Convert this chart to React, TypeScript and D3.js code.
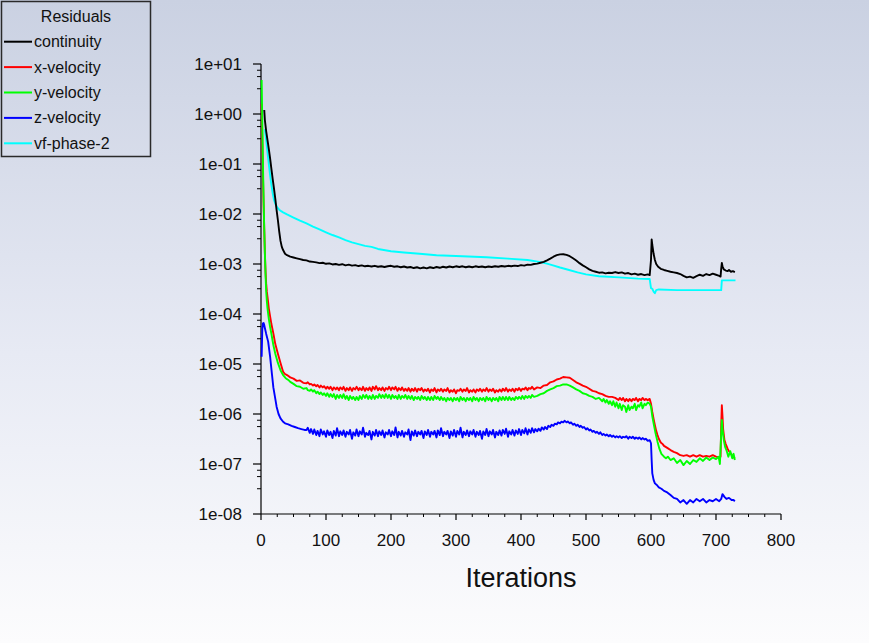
import React, { useEffect, useRef } from "react";
import * as d3 from "d3";

type Pt = [number, number];

// --- Data (iteration, residual)
const continuity: Pt[] = [
  [5, 1.2], [6, 0.75], [8, 0.45], [10, 0.3], [12, 0.2], [14, 0.13], [16, 0.08], [18, 0.05], [20, 0.032],
  [22, 0.02], [24, 0.012], [26, 0.0075], [28, 0.0045], [30, 0.0029], [32, 0.0022], [34, 0.0019], [37, 0.0016],
  [40, 0.0015], [45, 0.0014], [50, 0.00135], [55, 0.0013], [60, 0.00125], [65, 0.0012], [70, 0.00118],
  [75, 0.00112], [80, 0.0011], [85, 0.00108], [90, 0.00104], [95, 0.00106], [100, 0.00101], [105, 0.00103],
  [110, 0.00098], [115, 0.001], [120, 0.00096], [125, 0.00099], [130, 0.00094], [135, 0.00097], [140, 0.00093],
  [145, 0.00095], [150, 0.00091], [155, 0.00094], [160, 0.0009], [165, 0.00092], [170, 0.00089], [175, 0.00092],
  [180, 0.00088], [185, 0.0009], [190, 0.00087], [195, 0.0009], [200, 0.00092], [205, 0.00088], [210, 0.0009],
  [215, 0.00086], [220, 0.00089], [225, 0.00085], [230, 0.00087], [235, 0.00083], [240, 0.00086], [245, 0.00082],
  [250, 0.00085], [255, 0.00082], [260, 0.00086], [265, 0.00083], [270, 0.00087], [275, 0.00084], [280, 0.00088],
  [285, 0.00085], [290, 0.00089], [295, 0.00086], [300, 0.0009], [305, 0.00087], [310, 0.0009], [315, 0.00086],
  [320, 0.00089], [325, 0.00086], [330, 0.0009], [335, 0.00087], [340, 0.00089], [345, 0.00086], [350, 0.00089],
  [355, 0.00087], [360, 0.0009], [365, 0.00088], [370, 0.00091], [375, 0.00089], [380, 0.00092], [385, 0.0009],
  [390, 0.00093], [395, 0.00091], [400, 0.00095], [405, 0.00093], [410, 0.00097], [415, 0.00096], [420, 0.001],
  [425, 0.00102], [430, 0.00106], [435, 0.0011], [440, 0.00118], [445, 0.00128], [450, 0.0014], [455, 0.0015],
  [460, 0.00156], [465, 0.00157], [470, 0.00152], [475, 0.00143], [480, 0.0013], [485, 0.00117], [490, 0.00104],
  [495, 0.00094], [500, 0.00086], [505, 0.00078], [510, 0.00073], [515, 0.0007], [520, 0.00067], [525, 0.00068],
  [530, 0.00065], [535, 0.00067], [540, 0.00066], [545, 0.00069], [550, 0.00066], [555, 0.00068], [560, 0.00064],
  [565, 0.00066], [570, 0.00062], [575, 0.00064], [580, 0.00061], [585, 0.00063], [590, 0.0006], [595, 0.00062],
  [598, 0.0006], [600, 0.0012], [601, 0.0031], [602, 0.0024], [604, 0.0016], [606, 0.0012], [608, 0.001],
  [611, 0.00088], [615, 0.0008], [620, 0.00076], [625, 0.00073], [630, 0.0007], [635, 0.00068], [640, 0.00066],
  [645, 0.00063], [650, 0.00058], [655, 0.00054], [660, 0.00056], [665, 0.00053], [670, 0.00057], [675, 0.00061],
  [680, 0.00058], [685, 0.00063], [690, 0.0006], [695, 0.00064], [700, 0.00061], [705, 0.00058], [707, 0.00056],
  [708, 0.0008], [709, 0.00105], [710, 0.0009], [712, 0.00078], [715, 0.00074], [718, 0.00072], [720, 0.00076],
  [723, 0.0007], [726, 0.00072], [729, 0.00069],
];

const xVelocity: Pt[] = [
  [1, 1.6], [2, 0.32], [3, 0.063], [4, 0.016], [5, 0.005], [6, 0.0016], [7, 0.0007], [8, 0.0004], [9, 0.00028],
  [10, 0.00022], [11, 0.00017], [12, 0.00013], [14, 9e-5], [16, 6.3e-5], [19, 4.1e-5], [22, 2.5e-5], [26, 1.6e-5],
  [30, 1.05e-5], [34, 7e-6], [37, 6.3e-6], [40, 6e-6], [45, 5.4e-6], [50, 5.1e-6], [55, 4.6e-6], [60, 4.7e-6],
  [65, 4.2e-6], [70, 4.1e-6], [72, 4.3e-6], [75, 3.9e-6], [77, 4.0e-6], [80, 3.7e-6], [82, 3.9e-6], [85, 3.6e-6],
  [87, 3.8e-6], [90, 3.4e-6], [92, 3.7e-6], [95, 3.4e-6], [97, 3.6e-6], [100, 3.2e-6], [102, 3.5e-6],
  [105, 3.2e-6], [107, 3.5e-6], [110, 3.0e-6], [112, 3.4e-6], [115, 3.1e-6], [117, 3.4e-6], [120, 3.0e-6],
  [122, 3.4e-6], [125, 3.1e-6], [127, 3.5e-6], [130, 2.9e-6], [132, 3.3e-6], [135, 3.0e-6], [137, 3.4e-6],
  [140, 2.9e-6], [142, 3.3e-6], [145, 3.1e-6], [147, 3.5e-6], [150, 3.0e-6], [152, 3.3e-6], [155, 3.0e-6],
  [157, 3.5e-6], [160, 2.9e-6], [162, 3.3e-6], [165, 3.0e-6], [167, 3.4e-6], [170, 2.9e-6], [172, 3.5e-6],
  [175, 3.1e-6], [177, 3.6e-6], [180, 3.0e-6], [182, 3.3e-6], [185, 3.0e-6], [187, 3.4e-6], [190, 2.9e-6],
  [192, 3.3e-6], [195, 3.1e-6], [197, 3.5e-6], [200, 3.0e-6], [202, 3.4e-6], [205, 3.1e-6], [207, 3.5e-6],
  [210, 2.9e-6], [212, 3.3e-6], [215, 3.0e-6], [217, 3.4e-6], [220, 2.9e-6], [222, 3.2e-6], [225, 2.9e-6],
  [227, 3.3e-6], [230, 2.8e-6], [232, 3.2e-6], [235, 2.9e-6], [237, 3.3e-6], [240, 2.8e-6], [242, 3.2e-6],
  [245, 3.0e-6], [247, 3.3e-6], [250, 2.8e-6], [252, 3.1e-6], [255, 2.9e-6], [257, 3.2e-6], [260, 2.7e-6],
  [262, 3.1e-6], [265, 2.9e-6], [267, 3.3e-6], [270, 2.7e-6], [272, 3.1e-6], [275, 2.9e-6], [277, 3.2e-6],
  [280, 2.8e-6], [282, 3.1e-6], [285, 2.9e-6], [287, 3.3e-6], [290, 2.7e-6], [292, 3.0e-6], [295, 2.8e-6],
  [297, 3.1e-6], [300, 2.6e-6], [302, 3.0e-6], [305, 2.9e-6], [307, 3.2e-6], [310, 2.8e-6], [312, 3.1e-6],
  [315, 2.9e-6], [317, 3.3e-6], [320, 2.7e-6], [322, 3.0e-6], [325, 2.8e-6], [327, 3.1e-6], [330, 2.7e-6],
  [332, 3.1e-6], [335, 2.9e-6], [337, 3.2e-6], [340, 2.8e-6], [342, 3.1e-6], [345, 2.9e-6], [347, 3.3e-6],
  [350, 2.8e-6], [352, 3.1e-6], [355, 2.9e-6], [357, 3.2e-6], [360, 2.7e-6], [362, 3.0e-6], [365, 2.8e-6],
  [367, 3.1e-6], [370, 2.8e-6], [372, 3.2e-6], [375, 2.9e-6], [377, 3.3e-6], [380, 2.8e-6], [382, 3.1e-6],
  [385, 2.9e-6], [387, 3.2e-6], [390, 2.8e-6], [392, 3.2e-6], [395, 3.0e-6], [397, 3.3e-6], [400, 2.9e-6],
  [402, 3.2e-6], [405, 3.1e-6], [407, 3.4e-6], [410, 3.0e-6], [412, 3.3e-6], [415, 3.2e-6], [417, 3.5e-6],
  [420, 3.1e-6], [425, 3.4e-6], [430, 3.3e-6], [435, 3.7e-6], [440, 3.8e-6], [445, 4.3e-6], [450, 4.5e-6],
  [455, 4.9e-6], [460, 5.1e-6], [465, 5.5e-6], [470, 5.4e-6], [475, 5.3e-6], [480, 4.8e-6], [485, 4.3e-6],
  [490, 4.0e-6], [495, 3.7e-6], [500, 3.5e-6], [505, 3.2e-6], [510, 2.9e-6], [515, 2.8e-6], [520, 2.6e-6],
  [525, 2.5e-6], [530, 2.3e-6], [535, 2.2e-6], [540, 2.2e-6], [545, 2.1e-6], [550, 1.9e-6], [552, 2.1e-6],
  [555, 1.9e-6], [557, 2.1e-6], [560, 1.8e-6], [562, 2.0e-6], [565, 1.8e-6], [567, 2.0e-6], [570, 1.8e-6],
  [572, 2.0e-6], [575, 1.9e-6], [577, 2.1e-6], [580, 1.8e-6], [582, 2.0e-6], [585, 1.9e-6], [587, 2.1e-6],
  [590, 1.9e-6], [592, 2.0e-6], [595, 1.9e-6], [598, 2.0e-6], [600, 1.6e-6], [602, 1.1e-6], [604, 8e-7],
  [606, 6e-7], [608, 4.6e-7], [610, 3.8e-7], [612, 3.2e-7], [615, 2.7e-7], [618, 2.5e-7], [620, 2.3e-7],
  [625, 2.1e-7], [630, 1.9e-7], [635, 1.75e-7], [640, 1.65e-7], [645, 1.5e-7], [650, 1.45e-7], [655, 1.5e-7],
  [660, 1.4e-7], [665, 1.5e-7], [670, 1.4e-7], [675, 1.5e-7], [680, 1.4e-7], [685, 1.45e-7], [690, 1.4e-7],
  [695, 1.5e-7], [700, 1.4e-7], [705, 1.35e-7], [707, 1.4e-7], [708, 6e-7], [709, 1.5e-6], [710, 9e-7],
  [711, 5e-7], [713, 3e-7], [715, 2.5e-7], [718, 2e-7], [720, 1.8e-7], [723, 1.6e-7], [726, 1.4e-7], [729, 1.3e-7],
];

const yVelocity: Pt[] = [
  [1, 4.8], [2, 0.63], [3, 0.1], [4, 0.02], [5, 0.005], [6, 0.0016], [7, 0.0006], [8, 0.00028], [9, 0.00018],
  [10, 0.00013], [12, 8e-5], [14, 5.5e-5], [16, 4e-5], [19, 2.4e-5], [22, 1.6e-5], [26, 1.05e-5], [30, 7.5e-6],
  [34, 6e-6], [38, 5.2e-6], [42, 4.8e-6], [45, 4.4e-6], [50, 4.0e-6], [55, 3.6e-6], [60, 3.5e-6], [65, 3.2e-6],
  [70, 3.3e-6], [72, 3.0e-6], [75, 2.9e-6], [77, 3.1e-6], [80, 2.8e-6], [82, 3.0e-6], [85, 2.6e-6], [87, 2.8e-6],
  [90, 2.5e-6], [92, 2.7e-6], [95, 2.4e-6], [97, 2.6e-6], [100, 2.3e-6], [102, 2.6e-6], [105, 2.2e-6],
  [107, 2.5e-6], [110, 2.2e-6], [112, 2.5e-6], [115, 2.0e-6], [117, 2.4e-6], [120, 2.1e-6], [122, 2.4e-6],
  [125, 2.1e-6], [127, 2.5e-6], [130, 2.0e-6], [132, 2.3e-6], [135, 1.9e-6], [137, 2.3e-6], [140, 2.0e-6],
  [142, 2.2e-6], [145, 1.9e-6], [147, 2.2e-6], [150, 1.9e-6], [152, 2.3e-6], [155, 2.0e-6], [157, 2.4e-6],
  [160, 2.1e-6], [162, 2.4e-6], [165, 2.0e-6], [167, 2.3e-6], [170, 2.0e-6], [172, 2.4e-6], [175, 2.0e-6],
  [177, 2.3e-6], [180, 2.1e-6], [182, 2.5e-6], [185, 2.1e-6], [187, 2.4e-6], [190, 2.1e-6], [192, 2.5e-6],
  [195, 2.1e-6], [197, 2.4e-6], [200, 2.0e-6], [202, 2.4e-6], [205, 2.1e-6], [207, 2.3e-6], [210, 2.0e-6],
  [212, 2.4e-6], [215, 2.0e-6], [217, 2.3e-6], [220, 2.1e-6], [222, 2.4e-6], [225, 2.0e-6], [227, 2.3e-6],
  [230, 2.0e-6], [232, 2.3e-6], [235, 1.9e-6], [237, 2.2e-6], [240, 2.0e-6], [242, 2.2e-6], [245, 1.9e-6],
  [247, 2.3e-6], [250, 2.0e-6], [252, 2.2e-6], [255, 1.9e-6], [257, 2.2e-6], [260, 1.9e-6], [262, 2.2e-6],
  [265, 1.9e-6], [267, 2.3e-6], [270, 2.0e-6], [272, 2.2e-6], [275, 1.9e-6], [277, 2.2e-6], [280, 1.9e-6],
  [282, 2.1e-6], [285, 1.8e-6], [287, 2.1e-6], [290, 1.9e-6], [292, 2.1e-6], [295, 1.8e-6], [297, 2.1e-6],
  [300, 1.9e-6], [302, 2.1e-6], [305, 1.8e-6], [307, 2.2e-6], [310, 1.9e-6], [312, 2.1e-6], [315, 1.8e-6],
  [317, 2.1e-6], [320, 1.9e-6], [322, 2.1e-6], [325, 1.8e-6], [327, 2.2e-6], [330, 1.9e-6], [332, 2.1e-6],
  [335, 1.8e-6], [337, 2.1e-6], [340, 1.9e-6], [342, 2.1e-6], [345, 1.8e-6], [347, 2.2e-6], [350, 1.9e-6],
  [352, 2.1e-6], [355, 1.8e-6], [357, 2.1e-6], [360, 1.9e-6], [362, 2.1e-6], [365, 1.8e-6], [367, 2.2e-6],
  [370, 1.9e-6], [372, 2.2e-6], [375, 1.9e-6], [377, 2.2e-6], [380, 1.9e-6], [382, 2.2e-6], [385, 1.9e-6],
  [387, 2.1e-6], [390, 1.9e-6], [392, 2.2e-6], [395, 2.0e-6], [397, 2.2e-6], [400, 2.0e-6], [402, 2.3e-6],
  [405, 2.0e-6], [407, 2.3e-6], [410, 2.1e-6], [412, 2.3e-6], [415, 2.1e-6], [417, 2.4e-6], [420, 2.2e-6],
  [425, 2.3e-6], [430, 2.5e-6], [435, 2.6e-6], [440, 2.9e-6], [445, 3.1e-6], [450, 3.3e-6], [455, 3.6e-6],
  [460, 3.7e-6], [465, 3.9e-6], [470, 3.9e-6], [475, 3.7e-6], [480, 3.4e-6], [485, 3.1e-6], [490, 2.9e-6],
  [495, 2.6e-6], [500, 2.5e-6], [505, 2.3e-6], [510, 2.2e-6], [515, 2.0e-6], [520, 2.1e-6], [525, 1.8e-6],
  [527, 2.0e-6], [530, 1.7e-6], [532, 1.9e-6], [535, 1.6e-6], [537, 1.8e-6], [540, 1.5e-6], [542, 1.8e-6],
  [545, 1.4e-6], [547, 1.7e-6], [550, 1.3e-6], [552, 1.6e-6], [555, 1.2e-6], [557, 1.5e-6], [560, 1.4e-6],
  [562, 1.1e-6], [565, 1.5e-6], [567, 1.2e-6], [570, 1.4e-6], [572, 1.3e-6], [575, 1.6e-6], [577, 1.2e-6],
  [580, 1.5e-6], [582, 1.4e-6], [585, 1.7e-6], [587, 1.3e-6], [590, 1.6e-6], [592, 1.5e-6], [595, 1.7e-6],
  [598, 1.6e-6], [600, 1.4e-6], [602, 9e-7], [604, 6.5e-7], [607, 4.1e-7], [610, 2.8e-7], [613, 2e-7],
  [616, 1.6e-7], [620, 1.4e-7], [623, 1.3e-7], [626, 1.4e-7], [630, 1.2e-7], [635, 1.3e-7], [640, 1.05e-7],
  [645, 1.2e-7], [650, 9.5e-8], [655, 1.15e-7], [660, 1.0e-7], [665, 1.2e-7], [670, 1.1e-7], [675, 1.3e-7],
  [680, 1.15e-7], [685, 1.35e-7], [690, 1.2e-7], [695, 1.35e-7], [700, 1.25e-7], [704, 1.4e-7], [706, 1.0e-7],
  [708, 4e-7], [709, 7.6e-7], [710, 5e-7], [712, 3e-7], [714, 2.2e-7], [716, 1.9e-7], [719, 1.4e-7],
  [722, 1.8e-7], [725, 1.3e-7], [727, 1.6e-7], [729, 1.2e-7],
];

const zVelocity: Pt[] = [
  [1, 1.4e-5], [2, 5e-5], [3, 6.5e-5], [4, 6.6e-5], [5, 6e-5], [6, 5.2e-5], [8, 4e-5], [11, 2.8e-5], [14, 1.4e-5],
  [17, 6e-6], [19, 3.4e-6], [22, 2e-6], [24, 1.4e-6], [27, 1e-6], [30, 8.2e-7], [34, 7e-7], [37, 6.5e-7],
  [42, 6.2e-7], [47, 5.8e-7], [52, 5.5e-7], [57, 5.2e-7], [62, 5e-7], [67, 4.8e-7], [70, 4.8e-7], [72, 5.3e-7],
  [75, 4.2e-7], [77, 5.0e-7], [80, 4.0e-7], [82, 4.9e-7], [85, 3.8e-7], [87, 4.6e-7], [90, 3.6e-7], [92, 4.9e-7],
  [95, 3.9e-7], [97, 4.5e-7], [100, 3.5e-7], [102, 4.7e-7], [105, 3.8e-7], [107, 4.4e-7], [110, 3.3e-7],
  [112, 4.6e-7], [115, 3.7e-7], [117, 5.2e-7], [120, 3.6e-7], [122, 4.5e-7], [125, 3.8e-7], [127, 4.7e-7],
  [130, 3.5e-7], [132, 4.4e-7], [135, 3.9e-7], [137, 4.8e-7], [140, 3.2e-7], [142, 4.3e-7], [145, 3.7e-7],
  [147, 4.9e-7], [150, 3.6e-7], [152, 4.5e-7], [155, 3.9e-7], [157, 5.3e-7], [160, 3.5e-7], [162, 4.2e-7],
  [165, 3.8e-7], [167, 4.6e-7], [170, 3.1e-7], [172, 4.4e-7], [175, 3.7e-7], [177, 4.8e-7], [180, 3.6e-7],
  [182, 4.5e-7], [185, 3.8e-7], [187, 4.7e-7], [190, 3.4e-7], [192, 4.3e-7], [195, 3.9e-7], [197, 4.8e-7],
  [200, 3.6e-7], [202, 4.5e-7], [205, 3.8e-7], [207, 5.4e-7], [210, 3.4e-7], [212, 4.4e-7], [215, 3.7e-7],
  [217, 4.6e-7], [220, 3.5e-7], [222, 4.3e-7], [225, 3.9e-7], [227, 4.9e-7], [230, 3.0e-7], [232, 4.5e-7],
  [235, 3.7e-7], [237, 4.7e-7], [240, 3.6e-7], [242, 4.4e-7], [245, 3.9e-7], [247, 4.6e-7], [250, 3.3e-7],
  [252, 4.5e-7], [255, 3.8e-7], [257, 4.8e-7], [260, 3.5e-7], [262, 4.4e-7], [265, 3.9e-7], [267, 4.6e-7],
  [270, 3.4e-7], [272, 4.7e-7], [275, 3.8e-7], [277, 5.2e-7], [280, 3.6e-7], [282, 4.4e-7], [285, 3.9e-7],
  [287, 4.6e-7], [290, 3.3e-7], [292, 4.5e-7], [295, 3.7e-7], [297, 4.8e-7], [300, 3.5e-7], [302, 4.6e-7],
  [305, 3.9e-7], [307, 5.3e-7], [310, 3.4e-7], [312, 4.4e-7], [315, 3.8e-7], [317, 4.7e-7], [320, 3.6e-7],
  [322, 4.5e-7], [325, 3.9e-7], [327, 4.8e-7], [330, 3.5e-7], [332, 4.4e-7], [335, 3.8e-7], [337, 4.6e-7],
  [340, 3.2e-7], [342, 4.5e-7], [345, 3.8e-7], [347, 5.0e-7], [350, 3.6e-7], [352, 4.5e-7], [355, 3.9e-7],
  [357, 4.8e-7], [360, 3.4e-7], [362, 4.4e-7], [365, 3.8e-7], [367, 4.7e-7], [370, 3.7e-7], [372, 4.8e-7],
  [375, 4.0e-7], [377, 5.1e-7], [380, 3.5e-7], [382, 4.5e-7], [385, 3.9e-7], [387, 4.8e-7], [390, 3.7e-7],
  [392, 4.7e-7], [395, 4.0e-7], [397, 5.0e-7], [400, 3.8e-7], [402, 4.8e-7], [405, 4.1e-7], [407, 5.2e-7],
  [410, 3.9e-7], [412, 4.9e-7], [415, 4.2e-7], [417, 5.2e-7], [420, 4.3e-7], [422, 5.0e-7], [425, 4.5e-7],
  [427, 5.1e-7], [430, 4.6e-7], [432, 5.4e-7], [435, 4.9e-7], [437, 5.5e-7], [440, 5.0e-7], [442, 5.8e-7],
  [445, 5.5e-7], [447, 6.1e-7], [450, 5.8e-7], [452, 6.4e-7], [455, 6.2e-7], [457, 6.8e-7], [460, 6.5e-7],
  [462, 7.0e-7], [465, 6.8e-7], [467, 7.3e-7], [470, 6.8e-7], [472, 7.1e-7], [475, 6.5e-7], [477, 6.8e-7],
  [480, 6.1e-7], [482, 6.4e-7], [485, 5.8e-7], [487, 6.1e-7], [490, 5.5e-7], [492, 5.8e-7], [495, 5.3e-7],
  [497, 5.5e-7], [500, 4.9e-7], [502, 5.2e-7], [505, 4.7e-7], [507, 4.9e-7], [510, 4.4e-7], [512, 4.6e-7],
  [515, 4.2e-7], [517, 4.4e-7], [520, 4.0e-7], [522, 4.3e-7], [525, 3.8e-7], [527, 4.0e-7], [530, 3.7e-7],
  [532, 3.9e-7], [535, 3.6e-7], [537, 3.8e-7], [540, 3.5e-7], [542, 3.7e-7], [545, 3.4e-7], [547, 3.6e-7],
  [550, 3.4e-7], [552, 3.6e-7], [555, 3.3e-7], [557, 3.5e-7], [560, 3.4e-7], [562, 3.6e-7], [565, 3.2e-7],
  [567, 3.5e-7], [570, 3.3e-7], [572, 3.5e-7], [575, 3.2e-7], [577, 3.4e-7], [580, 3.2e-7], [582, 3.4e-7],
  [585, 3.1e-7], [587, 3.3e-7], [590, 3.1e-7], [592, 3.2e-7], [595, 2.9e-7], [598, 3.0e-7], [600, 2.6e-7],
  [601, 1.2e-7], [602, 6.5e-8], [604, 4.8e-8], [606, 4.1e-8], [609, 3.8e-8], [612, 3.4e-8], [616, 3.2e-8],
  [620, 2.9e-8], [625, 2.7e-8], [630, 2.4e-8], [635, 2.1e-8], [640, 2.0e-8], [645, 1.7e-8], [650, 1.9e-8],
  [655, 1.6e-8], [660, 1.9e-8], [665, 1.7e-8], [670, 2.0e-8], [675, 1.8e-8], [680, 2.0e-8], [685, 1.7e-8],
  [690, 1.9e-8], [695, 1.8e-8], [700, 2.0e-8], [705, 1.8e-8], [708, 2.0e-8], [710, 2.5e-8], [713, 2.2e-8],
  [716, 2.0e-8], [720, 2.1e-8], [724, 1.9e-8], [727, 1.9e-8], [729, 1.8e-8],
];

const vfPhase2: Pt[] = [
  [6, 0.5], [8, 0.3], [10, 0.17], [12, 0.1], [14, 0.06], [16, 0.038], [18, 0.026], [20, 0.019], [22, 0.016],
  [25, 0.0135], [28, 0.0122], [31, 0.0114], [34, 0.0108], [40, 0.0098], [50, 0.0085], [60, 0.0074], [70, 0.0065],
  [80, 0.0056], [90, 0.0049], [100, 0.0043], [110, 0.0038], [120, 0.0034], [130, 0.003], [140, 0.0027],
  [150, 0.0025], [160, 0.0023], [170, 0.0022], [180, 0.002], [200, 0.0018], [220, 0.0017], [244, 0.0016],
  [270, 0.0015], [300, 0.00145], [347, 0.00136], [380, 0.00128], [410, 0.0012], [428, 0.0011], [440, 0.00102],
  [448, 0.00095], [460, 0.00085], [474, 0.00076], [487, 0.00068], [500, 0.00062], [520, 0.00057], [551, 0.00054],
  [580, 0.00051], [598, 0.0005], [600, 0.00033], [602, 0.00032], [604, 0.00028], [606, 0.00026], [608, 0.0003],
  [612, 0.00031], [640, 0.0003], [680, 0.0003], [706, 0.0003], [708, 0.0003], [709, 0.00047], [730, 0.00047],
];

const seriesNames = ["continuity", "x-velocity", "y-velocity", "z-velocity", "vf-phase-2"];
const seriesColors = ["#000000", "#ff0000", "#00ff00", "#0000ff", "#00ffff"];
const seriesData = [continuity, xVelocity, yVelocity, zVelocity, vfPhase2];
const drawOrder = [4, 1, 2, 3, 0];

const xTicks = [0, 100, 200, 300, 400, 500, 600, 700, 800];
const xMinorStep = 25;
const yTicks = [1e1, 1e0, 1e-1, 1e-2, 1e-3, 1e-4, 1e-5, 1e-6, 1e-7, 1e-8];
const yTickLabels = ["1e+01", "1e+00", "1e-01", "1e-02", "1e-03", "1e-04", "1e-05", "1e-06", "1e-07", "1e-08"];
const yMinorFactors = [0.75, 0.56, 0.32];

const FONT = "'Liberation Sans', Arial, Helvetica, sans-serif";

const ResidualsChart: React.FC<{ width?: number; height?: number }> = ({ width = 869, height = 643 }) => {
  const ref = useRef<SVGSVGElement | null>(null);

  useEffect(() => {
    if (!ref.current) return;
    const root = d3.select(ref.current);
    root.selectAll("*").remove();
    root.attr("width", width).attr("height", height);

    // background gradient
    const defs = root.append("defs");
    const grad = defs
      .append("linearGradient")
      .attr("id", "bg")
      .attr("x1", 0)
      .attr("y1", 0)
      .attr("x2", 0)
      .attr("y2", 1);
    grad.append("stop").attr("offset", "0%").attr("stop-color", "#cad1e2");
    grad.append("stop").attr("offset", "55%").attr("stop-color", "#e7eaf4");
    grad.append("stop").attr("offset", "100%").attr("stop-color", "#fcfcfd");
    root.append("rect").attr("width", width).attr("height", height).attr("fill", "url(#bg)");

    const x = d3.scaleLinear().domain([0, 800]).range([261, 781]);
    const y = d3.scaleLog().domain([1e-8, 1e1]).range([514, 64]);

    const g = root.append("g");

    // axes lines
    g.append("line")
      .attr("x1", x(0)).attr("x2", x(0))
      .attr("y1", y(1e1)).attr("y2", y(1e-8))
      .attr("stroke", "#000").attr("stroke-width", 1.2);
    g.append("line")
      .attr("x1", x(0)).attr("x2", x(800))
      .attr("y1", y(1e-8)).attr("y2", y(1e-8))
      .attr("stroke", "#000").attr("stroke-width", 1.2);

    // x ticks
    const xMinor = d3.range(0, 800 + 1, xMinorStep).filter((v) => v % 100 !== 0);
    g.selectAll(".xminor")
      .data(xMinor)
      .join("line")
      .attr("x1", (d) => x(d)).attr("x2", (d) => x(d))
      .attr("y1", y(1e-8)).attr("y2", y(1e-8) + 3)
      .attr("stroke", "#000").attr("stroke-width", 1);
    g.selectAll(".xmajor")
      .data(xTicks)
      .join("line")
      .attr("x1", (d) => x(d)).attr("x2", (d) => x(d))
      .attr("y1", y(1e-8)).attr("y2", y(1e-8) + 6)
      .attr("stroke", "#000").attr("stroke-width", 1.2);
    g.selectAll(".xlabel")
      .data(xTicks)
      .join("text")
      .attr("x", (d) => x(d))
      .attr("y", 546)
      .attr("text-anchor", "middle")
      .style("font-family", FONT)
      .style("font-size", "17px")
      .style("fill", "#111")
      .text((d) => String(d));

    // y ticks
    const yMinor = yTicks.slice(0, -1).flatMap((t) => yMinorFactors.map((f) => t * f));
    g.selectAll(".yminor")
      .data(yMinor)
      .join("line")
      .attr("x1", x(0) - 4).attr("x2", x(0))
      .attr("y1", (d) => y(d)).attr("y2", (d) => y(d))
      .attr("stroke", "#000").attr("stroke-width", 1);
    g.selectAll(".ymajor")
      .data(yTicks)
      .join("line")
      .attr("x1", x(0) - 8).attr("x2", x(0))
      .attr("y1", (d) => y(d)).attr("y2", (d) => y(d))
      .attr("stroke", "#000").attr("stroke-width", 1.2);
    g.selectAll(".ylabel")
      .data(yTicks)
      .join("text")
      .attr("x", 242)
      .attr("y", (d) => y(d) + 6)
      .attr("text-anchor", "end")
      .style("font-family", FONT)
      .style("font-size", "17px")
      .style("fill", "#111")
      .text((_, i) => yTickLabels[i]);

    // axis title
    g.append("text")
      .attr("x", (x(0) + x(800)) / 2)
      .attr("y", 587)
      .attr("text-anchor", "middle")
      .style("font-family", FONT)
      .style("font-size", "27px")
      .style("fill", "#111")
      .text("Iterations");

    // residual lines
    const line = d3
      .line<Pt>()
      .x((d) => x(d[0]))
      .y((d) => y(d[1]));
    drawOrder.forEach((i) => {
      g.append("path")
        .datum(seriesData[i])
        .attr("d", line)
        .attr("fill", "none")
        .attr("stroke", seriesColors[i])
        .attr("stroke-width", 1.9)
        .attr("stroke-linejoin", "round");
    });

    // legend
    const lg = root.append("g");
    lg.append("rect")
      .attr("x", 1.5).attr("y", 1.5)
      .attr("width", 149).attr("height", 155)
      .attr("fill", "none")
      .attr("stroke", "#2a2a2a")
      .attr("stroke-width", 1.5);
    lg.append("text")
      .attr("x", 76).attr("y", 22)
      .attr("text-anchor", "middle")
      .style("font-family", FONT)
      .style("font-size", "16px")
      .style("fill", "#111")
      .text("Residuals");
    const rows = lg
      .selectAll(".row")
      .data(seriesNames)
      .join("g")
      .attr("transform", (_, i) => `translate(0, ${41.7 + i * 25.4})`);
    rows.append("line")
      .attr("x1", 4).attr("x2", 32)
      .attr("stroke", (_, i) => seriesColors[i])
      .attr("stroke-width", 2);
    rows.append("text")
      .attr("x", 34).attr("y", 5.5)
      .style("font-family", FONT)
      .style("font-size", "16px")
      .style("fill", "#111")
      .text((d) => d);

    return () => {
      root.selectAll("*").remove();
    };
  }, [width, height]);

  return <svg ref={ref} style={{ position: "absolute", left: 0, top: 0, display: "block" }}></svg>;
};

export default function App() {
  return <ResidualsChart />;
}
